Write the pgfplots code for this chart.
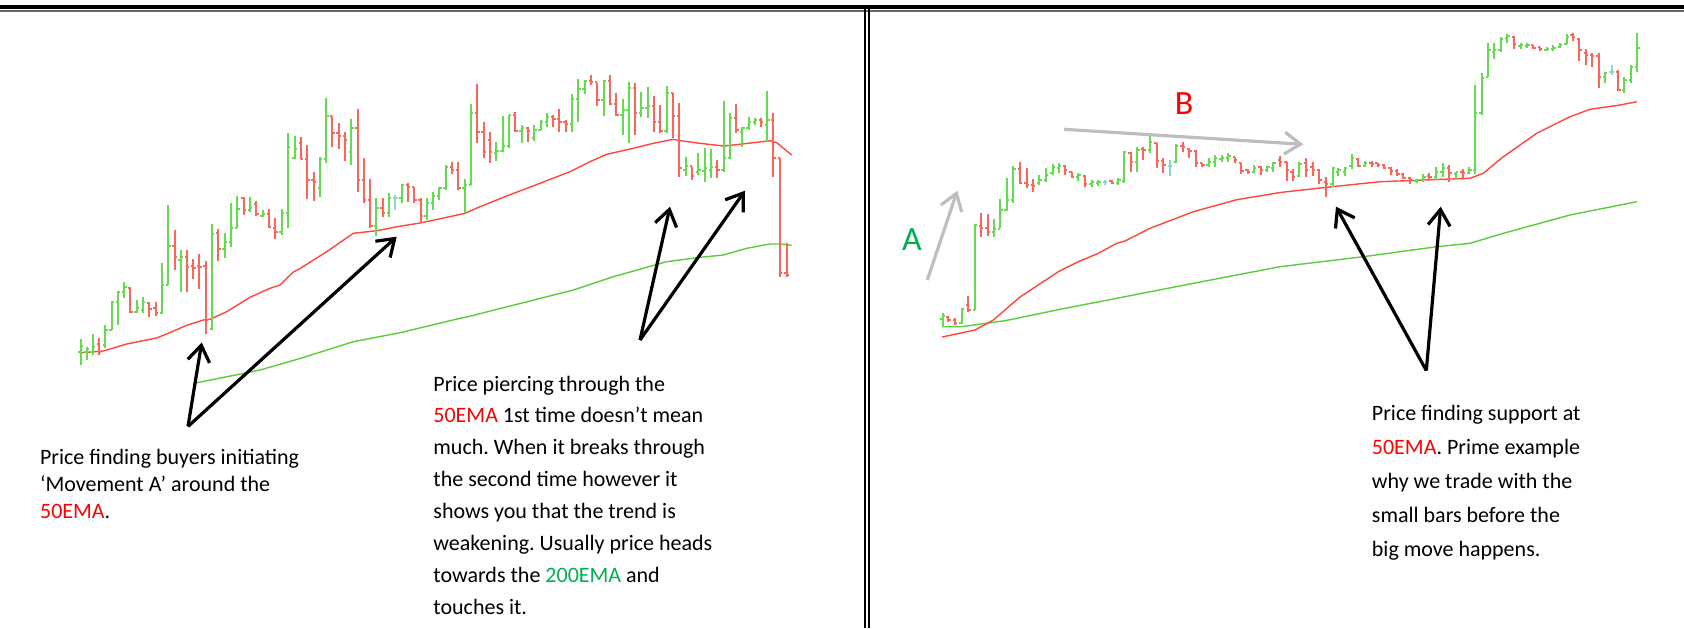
\documentclass[border=0pt]{standalone}
\usepackage{fontspec}
\setmainfont{Carlito}
\usepackage{pgfplots}
\pgfplotsset{compat=1.18}
\usepackage{pgfplotstable}
\usetikzlibrary{arrows.meta}
\frenchspacing

\definecolor{barG}{RGB}{100,220,80}
\definecolor{barR}{RGB}{255,100,90}
\definecolor{barC}{RGB}{140,215,205}
\definecolor{emaR}{RGB}{255,70,60}
\definecolor{emaG}{RGB}{90,205,60}
\definecolor{txtR}{RGB}{255,0,0}
\definecolor{txtG}{RGB}{0,176,80}
\definecolor{arrGray}{RGB}{190,190,190}

% pixel coordinates (y downward): x hi lo open close
\pgfplotstableread{
x hi lo o c
80.7 339.3 365 352 346
86.7 346.7 360 352 349
92.7 334 355 352 347
105.3 325.3 348.3 345 330
111.7 300.7 330 330 302
118 290.7 325 302 292
124.3 281.7 298.3 292 287
136.7 300 313.3 312 308
143 296.7 312.7 310 302
162 263.3 314.3 313 285
168.3 205 285 285 246
180.7 250 291.7 260 257
212 224.3 330 329 234
224.7 233.3 258.3 249 242
231 202.7 246.7 242 228
237.3 195.7 228.3 228 209
250 196.7 212.3 210 208
262.7 210 217.3 216 214
281.7 209.3 235 232 213
288 132.7 228 213 147
294.7 136 159.3 158 149
320 157.3 197.3 188 159
326.3 98.3 162.7 159 116
351.3 119.3 165 152 128
376.3 197.7 236 226 208
389 192.7 217.3 213 198
401.7 184 202.7 198 185
426.7 198.3 220 216 203
433 191.7 210 203 196
439.3 187.3 200 196 188
445.7 165 190 188 167
464.7 179.3 212.7 188 185
471 104 185 185 113
496.3 141.7 160.7 153 151
502.7 116 151.7 151 146
509 115 148.3 146 115
521.7 125 142.7 131 128
534.3 125 140.7 138 130
540.7 120 130 130 122
547 112.7 127.3 122 117
572 94 131.7 124 99
578.3 79.3 121.7 99 89
584.7 80 94 89 81
603.7 80 116 100 81
622.7 99.3 135 115 110
628.7 81.7 142.7 110 88
641.3 91.7 116.7 113 108
647.7 86.7 118.3 108 106
666.7 86 133.3 131 93
685.7 157.3 176 170 166
698.3 153.3 175 172 170
704.7 148.3 181.7 171 168
711 149.3 178.3 170 167
723.7 100.7 171.7 170 158
730 112.7 159.3 158 118
742.3 126.7 147.3 132 128
748.7 116.7 130 128 122
755 118.3 125 122 120
767.3 90.7 141.7 125 120
942.7 312.7 326.7 319 316
961.7 308.3 324 323 309
975 224 310 310 225
994 219.3 237.3 232 229
1000.3 199.3 228.3 229 210
1006.7 178.3 210.7 210 200
1013.3 166 202.7 200 169
1039.3 175 185 183 180
1046 168.3 181.7 180 175
1052.7 164 175 173 167
1059 163.3 173.3 168 166
1078.3 173.3 180.7 177 175
1091.7 180 186.7 184 182
1098.3 180 186 183 182
1118.3 178.3 185 183 180
1124 150.7 182.7 181 152
1137.3 146.7 171.7 162 150
1150 136 153.3 150 142
1176 144 163.3 162 146
1208.7 158.3 166.7 165 162
1215 155 166.7 162 158
1221.7 155 161.7 159 158
1228.3 153.3 161.7 158 156
1254 165 172.7 172 168
1267.3 166 171.7 170 167
1273.3 161.7 171.7 168 163
1299.3 161.7 177.3 176 164
1332.7 166.7 186.7 184 168
1338.3 168.3 176 172 170
1345 166.7 176 172 168
1351.7 154 169.3 166 158
1365 160.7 167.3 166 163
1416.7 179.3 182.7 181 180
1423.3 174 181.7 180 177
1436 166.7 180 177 172
1442.7 162.7 176.7 172 168
1456 171.7 179.3 174 172
1469.3 167.3 174 173 170
1475 85 174 170 113
1481.7 73.3 115 113 78
1488.3 42.7 77.3 77 50
1494 42.7 59.3 52 50
1500.7 36.7 51.7 50 39
1507.3 34 42.7 38 36
1520.7 42.7 49.3 46 45
1527.3 42.7 48.3 46 45
1546.7 47.3 50.7 50 49
1553.3 45 50.7 49 48
1560 43.3 48.3 47 45
1566.7 34 44 44 37
1605 71.7 82.7 77 73
1624.3 77.3 92.7 90 80
1631 65 82.7 80 67
1637.3 32.7 71.7 67 48
}\tabG

\pgfplotstableread{
x hi lo o c
99 338.3 355 344 352
130.3 287.3 312.7 288 312
149.3 301.7 316.7 303 309
155.7 301.7 316 308 313
174.7 230 270 246 257
187 250 291.7 257 267
193.3 259 279.3 266 268
199.3 254 289.3 266 267
205.7 260.7 334 266 320
218.3 229 260.7 233 249
243.7 196.7 215 198 210
256.3 201 215.7 204 214
269 209.3 228.3 214 227
275.3 218.3 239 228 232
301 137.3 159.3 143 159
307.3 145.3 199 159 180
313.7 172.3 200.7 180 182
332.3 115.7 146.7 116 133
338.7 123.3 149 133 136
345 131.7 160.7 136 140
357.7 109.3 191.7 128 180
364 158.3 203.3 180 200
370.3 178.7 227.7 200 226
382.7 198.3 216.7 208 213
408 183.3 201.7 185 187
414.3 186.7 202.7 187 200
420.7 197.7 223.3 200 216
452 161.7 174.3 167 170
458.3 161.7 190 170 188
477.3 84 142.7 113 132
483.7 121.7 158.3 132 152
490 131.7 162.7 140 152
515.3 111.7 131.7 115 131
528 126.7 141.7 128 131
553.3 115 126.7 117 119
559.3 109.3 131.7 119 122
565.7 120 131.7 122 124
591 75 85 81 82
597.3 83.3 106 82 100
610 75 105 81 104
616.3 92.7 116 104 115
635 83.3 135 88 113
654 96 131.7 106 122
660.3 105 133.3 122 131
673 92.7 138.3 93 116
679.3 103.3 176.7 116 168
692 166.7 180 166 176
717.3 160 178.3 167 170
736.3 104 133.3 118 130
761 118.3 126.7 120 122
773.3 113.3 176.7 120 158
780 158.3 276.7 158 273
786.7 243.3 276.7 273 275
948.3 316 321.7 317 320
955 318.3 325 320 323
968.3 296 311.7 305 310
981 213.3 236.7 226 228
987.7 214 236 228 232
1020 161.7 184 169 183
1026.7 168.3 188.3 183 185
1033 179.3 191.7 185 186
1065 165 175 166 170
1071.7 171.7 178.3 172 177
1085 175 186.7 176 184
1111.7 180 184 181 183
1130.7 151.7 171.7 153 162
1143.3 146.7 160 149 150
1156.7 142.7 168.3 143 161
1163.3 158.3 172.7 161 165
1182.7 141.7 151.7 146 147
1189.3 148.3 158.3 149 151
1196 150 166.7 151 163
1202.3 162.7 167.3 163 165
1235 157.3 163.3 157 160
1241.3 162.7 174 163 171
1247.7 169.3 174 170 172
1260.7 166 175 167 170
1280 156 166.7 160 162
1286.7 161.7 180.7 162 170
1292.7 169.3 180.7 172 177
1306 158.3 176.7 163 170
1312.7 161.7 176 167 170
1319.3 169.3 184 170 180
1326 177.3 197.3 182 184
1358.3 158.3 167.3 159 166
1371.7 160.7 167.3 163 164
1377.7 162.7 166.7 163 165
1384 164 169.3 165 168
1390.7 166.7 175 168 171
1397.3 169.3 176 171 174
1403.3 173.3 179.3 174 178
1410 176.7 184 178 180
1429.3 172.7 180 176 177
1449.3 165 181.7 168 173
1462.7 169.3 178.3 172 173
1514 36 49.3 37 44
1533.3 45 49.3 45 48
1540 46.7 50.7 47 49
1572.7 32.7 40.7 35 37
1579.3 38.3 60.7 39 50
1586 49.3 65 53 55
1592 53.3 66.7 55 56
1598.7 52.7 88.3 56 77
1618.3 70 90.7 72 90
}\tabR

\pgfplotstableread{
x hi lo o c
395.3 195 210 198 198
1105 180 185 182 182
1170 160 176 166 166
1611.7 65 75 72 72
}\tabC

\newcommand{\ohlc}[2]{%
  \addplot[#2, line width=0.9pt, quiver={u=0, v=\thisrow{lo}-\thisrow{hi}}] table[x=x,y=hi]{#1};
  \addplot[#2, line width=0.6pt, quiver={u=-2.4, v=0}] table[x=x,y=o]{#1};
  \addplot[#2, line width=0.6pt, quiver={u=2.4, v=0}] table[x=x,y=c]{#1};
}

\tikzset{txt/.style={anchor=base west, inner sep=0pt, font=\fontsize{11}{13}\selectfont}}

\begin{document}
\begin{tikzpicture}
\begin{axis}[width=842pt, height=314pt, scale only axis, hide axis,
  xmin=0, xmax=1684, ymin=0, ymax=628, y dir=reverse, clip=false]

% frame
\fill[black] (axis cs:0,5) rectangle (axis cs:1684,9);
\fill[black!60] (axis cs:0,9.5) rectangle (axis cs:1684,12);
\fill[black] (axis cs:863.5,9) rectangle (axis cs:865.5,628);
\fill[black] (axis cs:868,9) rectangle (axis cs:870,628);

% EMA lines
\addplot[emaG, line width=0.7pt] coordinates {(193.3,383.4) (247,372.7) (260,370) (300,358.5) (353.3,341.7) (393.3,334) (400,332.7) (460,318.3) (466.7,317) (573.3,290) (613.3,276.7) (666.7,261.7) (700,257.3) (723.3,255) (746.7,248.3) (770,244) (780,244) (791.7,245.3)};
\addplot[emaR, line width=0.7pt] coordinates {(80.7,352.7) (103.3,351) (126.7,344) (156.7,338) (166.7,334) (186.7,325.3) (203.3,320) (210,319.3) (226.7,311.7) (250,297.3) (270,288.3) (280,285) (293.3,272) (300,268.5) (326.7,251.7) (353.3,233.3) (376.7,230.7) (400,226.2) (420,223) (440,218.8) (465,213.3) (480,206.7) (506.7,196) (540,183.3) (570,171.7) (590,161.7) (606.7,154.3) (633.3,148.3) (653.3,143.3) (673.3,139.3) (680,140.7) (700,143.3) (723.3,146) (733.3,145) (753.3,142.7) (770,140.7) (776.7,142.7) (791.7,155)};
\addplot[emaG, line width=0.7pt] coordinates {(942.7,326.7) (961.7,326.7) (1005,320.7) (1065,308.3) (1125,296.7) (1193.3,283.3) (1280,266.7) (1363.3,256.7) (1436.7,246.7) (1470,243.3) (1503.3,233.3) (1570,215) (1636.7,201.7)};
\addplot[emaR, line width=0.7pt] coordinates {(942,337) (975,330) (993.3,320) (1020,297) (1058.3,271.7) (1078.3,261.7) (1098.3,253.3) (1116.7,243.3) (1125,241) (1150,228.3) (1193.3,211.7) (1236.7,199.7) (1280,192.5) (1326.7,187.3) (1380,181.7) (1470,178.3) (1483.3,173.3) (1503.3,156.7) (1536.7,133.3) (1570,116.7) (1590,109.3) (1620,105) (1636.7,101.7)};

% bars
\ohlc{\tabG}{barG}
\ohlc{\tabR}{barR}
\ohlc{\tabC}{barC}

% arrows
\draw[black, line width=1.6pt, -{Straight Barb[length=8pt,width=11pt]}] (axis cs:188,426.4) -- (axis cs:201.7,342.5);
\draw[black, line width=1.6pt, -{Straight Barb[length=8pt,width=11pt]}] (axis cs:188,426.4) -- (axis cs:396.7,236.7);
\draw[black, line width=1.6pt, -{Straight Barb[length=8pt,width=11pt]}] (axis cs:640,340) -- (axis cs:670,206.7);
\draw[black, line width=1.6pt, -{Straight Barb[length=8pt,width=11pt]}] (axis cs:640,340) -- (axis cs:745,190.7);
\draw[black, line width=1.6pt, -{Straight Barb[length=8pt,width=11pt]}] (axis cs:1426.3,370.5) -- (axis cs:1336,206.7);
\draw[black, line width=1.6pt, -{Straight Barb[length=8pt,width=11pt]}] (axis cs:1426.3,370.5) -- (axis cs:1440.7,206.7);
\draw[arrGray, line width=1.6pt, -{Straight Barb[length=8pt,width=11pt]}] (axis cs:927.3,280) -- (axis cs:957.3,190.7);
\draw[arrGray, line width=1.6pt, -{Straight Barb[length=8pt,width=11pt]}] (axis cs:1064,129.3) -- (axis cs:1303.3,144.3);

% letters
\node[anchor=base, inner sep=0pt, font=\fontsize{17}{20}\selectfont, text=txtG] at (axis cs:912,250) {A};
\node[anchor=base, inner sep=0pt, font=\fontsize{17}{20}\selectfont, text=txtR] at (axis cs:1184,114) {B};

% text 1
\node[txt] at (axis cs:39.7,464) {Price finding buyers initiating};
\node[txt] at (axis cs:39.7,491) {‘Movement A’ around the};
\node[txt] at (axis cs:39.7,518) {\textcolor{txtR}{50EMA}.};

% text 2
\node[txt] at (axis cs:433,391) {Price piercing through the};
\node[txt] at (axis cs:433,422.9) {\textcolor{txtR}{50EMA} 1st time doesn’t mean};
\node[txt] at (axis cs:433,454.8) {much. When it breaks through};
\node[txt] at (axis cs:433,486.7) {the second time however it};
\node[txt] at (axis cs:433,518.6) {shows you that the trend is};
\node[txt] at (axis cs:433,550.5) {weakening. Usually price heads};
\node[txt] at (axis cs:433,582.4) {towards the \textcolor{txtG}{200EMA} and};
\node[txt] at (axis cs:433,614.3) {touches it.};

% text 3
\node[txt] at (axis cs:1371.5,420.5) {Price finding support at};
\node[txt] at (axis cs:1371.5,454.6) {\textcolor{txtR}{50EMA}. Prime example};
\node[txt] at (axis cs:1371.5,488.7) {why we trade with the};
\node[txt] at (axis cs:1371.5,522.8) {small bars before the};
\node[txt] at (axis cs:1371.5,556.9) {big move happens.};

\end{axis}
\pgfresetboundingbox
\path[use as bounding box] (0,0) rectangle (842pt,314pt);
\end{tikzpicture}
\end{document}
